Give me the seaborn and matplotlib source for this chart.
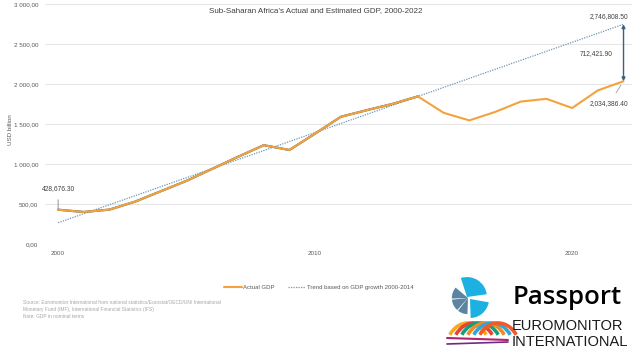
import numpy as np
import pandas as pd
import matplotlib
matplotlib.use("Agg")
import matplotlib.pyplot as plt
from matplotlib.patches import Wedge, Arc
import seaborn as sns

# data (USD billion)
years = list(range(2000, 2023))
actual_gdp = [428.7, 400, 430, 530, 660, 790, 940, 1090, 1235, 1175, 1380,
              1590, 1672, 1750, 1845, 1640, 1545, 1650, 1780, 1815, 1700,
              1920, 2034.4]
trend_years = [2000, 2022]
trend_gdp = [266, 2746.8]
fit_years = years[:15]
fit_gdp = actual_gdp[:15]

y_ticks = [0, 500, 1000, 1500, 2000, 2500, 3000]
y_labels = ["0,00", "500,00", "1 000,00", "1 500,00", "2 000,00", "2 500,00", "3 000,00"]
x_ticks = [2000, 2010, 2020]

title = "Sub-Saharan Africa\u2019s Actual and Estimated GDP, 2000-2022"
source_lines = [
    "Source: Euromonitor International from national statistics/Eurostat/OECD/UN/ International",
    "Monetary Fund (IMF), International Financial Statistics (IFS)",
    "Note: GDP in nominal terms",
]

ORANGE = "#f5a23c"
SLATE = "#3f6178"
TREND = "#6f98b3"

sns.set_style("white")
plt.rcParams["font.family"] = ["Liberation Sans", "DejaVu Sans"]

fig = plt.figure(figsize=(6.37, 3.58), dpi=100)
ax = fig.add_axes([45 / 637, 1 - 244 / 358, 587 / 637, 240 / 358])

df_actual = pd.DataFrame({"year": years, "gdp": actual_gdp})
df_fit = pd.DataFrame({"year": fit_years, "gdp": fit_gdp})
df_trend = pd.DataFrame({"year": trend_years, "gdp": trend_gdp})

sns.lineplot(data=df_trend, x="year", y="gdp", ax=ax, color=TREND, lw=0.9,
             linestyle=(0, (1, 1)), zorder=2)
sns.lineplot(data=df_fit, x="year", y="gdp", ax=ax, color=SLATE, lw=1.6, zorder=3)
sns.lineplot(data=df_actual, x="year", y="gdp", ax=ax, color=ORANGE, lw=1.5, zorder=4)

ax.set_xlim(1999.49, 2022.33)
ax.set_ylim(0, 3000)
ax.set_yticks(y_ticks)
ax.set_yticklabels(y_labels)
ax.set_xticks(x_ticks)
ax.set_xticklabels([str(x) for x in x_ticks])
ax.tick_params(axis="both", labelsize=4.5, colors="#595959", length=0, pad=5)
ax.grid(axis="y", color="#e6e6e6", lw=0.8)
ax.grid(axis="x", visible=False)
for s in ax.spines.values():
    s.set_visible(False)
ax.set_xlabel("")
ax.set_ylabel("")
fig.text(10 / 637, 1 - 130 / 358, "USD billion", fontsize=4.5, color="#595959",
         rotation=90, ha="center", va="center")

# annotations
ax.annotate("", xy=(2022, trend_gdp[1]), xytext=(2022, actual_gdp[-1]),
            arrowprops=dict(arrowstyle="<|-|>", color=SLATE, lw=1, mutation_scale=5,
                            shrinkA=0, shrinkB=0), zorder=5)
ax.text(2021.45, 2845, "2,746,808.50", fontsize=4.8, ha="center", va="center", color="#404040")
ax.text(2020.95, 2375, "712,421.90", fontsize=4.8, ha="center", va="center", color="#404040")
ax.annotate("2,034,386.40", xy=(2021.9, 1985), xytext=(2021.45, 1760), fontsize=4.8,
            ha="center", va="center", color="#404040",
            arrowprops=dict(arrowstyle="-", color="#a0a0a0", lw=0.6, shrinkA=3, shrinkB=0))
ax.annotate("428,676.30", xy=(2000, 428.7), xytext=(2000, 690), fontsize=4.8,
            ha="center", va="center", color="#404040",
            arrowprops=dict(arrowstyle="-", color="#808080", lw=0.6, shrinkA=3, shrinkB=0))

fig.text(316 / 637, 1 - 11 / 358, title, fontsize=5.8, ha="center", va="center", color="#404040")

# legend
leg_handles = [plt.Line2D([], [], color=ORANGE, lw=1.5),
               plt.Line2D([], [], color=TREND, lw=0.9, linestyle=(0, (1, 1)))]
fig.legend(leg_handles, ["Actual GDP", "Trend based on GDP growth 2000-2014"],
           loc="center", bbox_to_anchor=(319 / 637, 1 - 287 / 358), ncol=2, frameon=False,
           fontsize=4.3, handlelength=2.9, columnspacing=2.2, labelcolor="#595959",
           handletextpad=0.3)

for i, line in enumerate(source_lines):
    fig.text(23 / 637, 1 - (302 + 7 * i) / 358, line, fontsize=3.5, color="#a6a6a6",
             ha="left", va="center")

# logo (pixel coordinates, y measured from the top)
lax = fig.add_axes([0, 0, 1, 1], zorder=-1)
lax.set_xlim(0, 637)
lax.set_ylim(0, 358)
lax.axis("off")
H = 358
cx, cy, r = 470, 298, 19
slate = "#5b84a1"
cyan = "#1cb1e0"
for t1, t2, rr in [(140, 182, 0.85), (186, 228, 0.85), (232, 268, 0.85)]:
    lax.add_patch(Wedge((cx - 2, H - cy), r * rr, t1, t2, color=slate, lw=0))
lax.add_patch(Wedge((cx, H - cy - 1), r, 272, 350, color=cyan, lw=0))
lax.add_patch(Wedge((cx - 3, H - cy + 1), r * 1.05, 8, 108, color=cyan, lw=0))
arc_cols = ["#f7a823", "#e8442d", "#12a07a", "#f08a24", "#2fa6d8", "#f15a29"]
for k, col in enumerate(arc_cols):
    lax.add_patch(Arc((468 + k * 6, H - 350), 44, 54, theta1=40, theta2=140,
                      color=col, lw=2.6))
lax.plot([447, 508], [H - 338, H - 340], color="#b0246b", lw=1.5)
lax.plot([447, 508], [H - 344, H - 342], color="#6e2a86", lw=1.2)
fig.text(567 / 637, 1 - 298 / 358, "Passport", fontsize=18.5, ha="center", va="center",
         color="black", family=["Open Sans", "DejaVu Sans"], fontweight="semibold")
fig.text(512 / 637, 1 - 326.5 / 358, "EUROMONITOR", fontsize=10.5, ha="left", va="center",
         color="#1a1a1a")
fig.text(512 / 637, 1 - 341.5 / 358, "INTERNATIONAL", fontsize=10.5, ha="left", va="center",
         color="#1a1a1a")

fig.savefig("out.png", dpi=100)
